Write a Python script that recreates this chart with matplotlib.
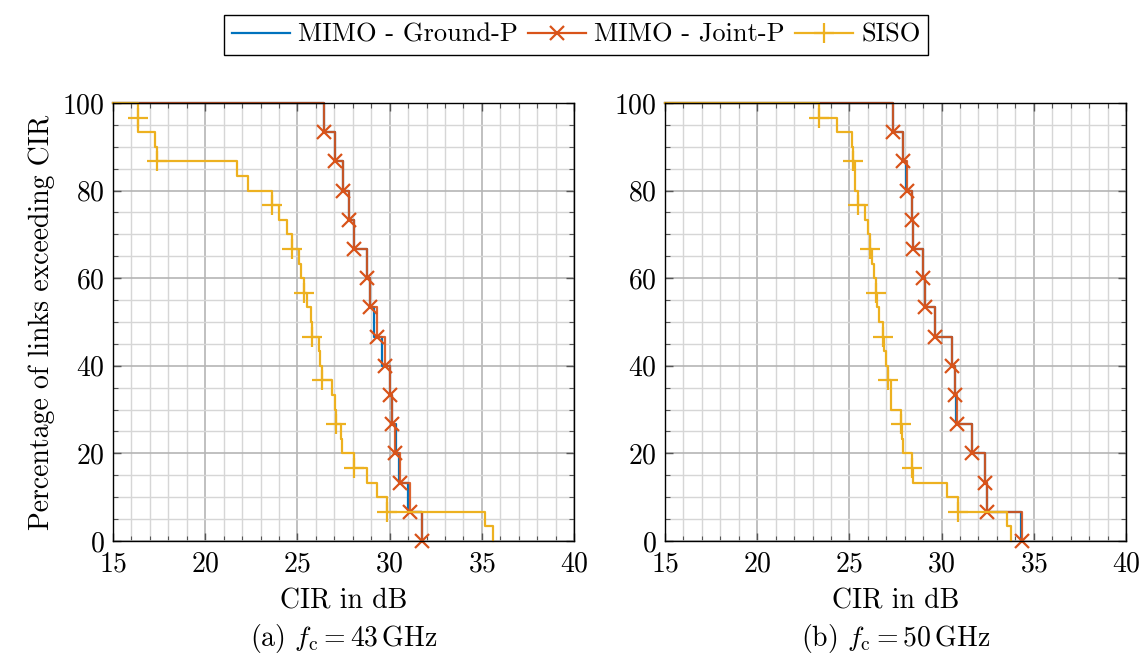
import numpy as np
import matplotlib.pyplot as plt
from matplotlib.ticker import MultipleLocator

plt.rcParams['font.family'] = 'cmr10'
plt.rcParams['mathtext.fontset'] = 'cm'
plt.rcParams['axes.formatter.use_mathtext'] = True
plt.rcParams['font.size'] = 20

# sorted CIR samples in dB
siso_43 = [16.34, 16.36, 17.28, 17.37, 21.71, 22.30, 23.64, 24.02, 24.42, 24.69,
           25.10, 25.20, 25.36, 25.50, 25.75, 25.78, 26.17, 26.23, 26.32, 26.86,
           27.02, 27.07, 27.38, 27.42, 28.09, 28.76, 29.30, 29.84, 35.17, 35.59]
ground_43 = [26.44, 27.04, 27.49, 27.80, 28.09, 28.76, 28.96, 29.13, 29.57, 30.00,
             30.12, 30.36, 30.50, 31.00, 31.78]
joint_43 = [26.44, 27.04, 27.49, 27.80, 28.09, 28.76, 28.96, 29.30, 29.75, 30.04,
            30.13, 30.30, 30.55, 31.10, 31.75]

siso_50 = [23.37, 24.31, 25.12, 25.21, 25.28, 25.33, 25.45, 25.86, 26.00, 26.10,
           26.20, 26.34, 26.42, 26.52, 26.58, 26.80, 26.90, 26.98, 27.12, 27.24,
           27.27, 27.80, 27.86, 27.90, 28.41, 28.43, 30.31, 30.88, 33.53, 33.74]
ground_50 = [27.35, 27.92, 28.08, 28.38, 28.45, 29.01, 29.12, 29.64, 30.56, 30.73,
             30.80, 31.67, 32.33, 32.48, 34.30]
joint_50 = [27.35, 27.92, 28.10, 28.38, 28.43, 29.01, 29.12, 29.64, 30.58, 30.73,
            30.82, 31.67, 32.35, 32.48, 34.34]

captions = [r'(a) $f_\mathrm{c} = 43\,\mathrm{GHz}$', r'(b) $f_\mathrm{c} = 50\,\mathrm{GHz}$']

blue = '#0072BD'
red = '#D95319'
yellow = '#EDB120'
x_min, x_max = 15, 40


def ccdf(samples):
    # step curve: percentage of links exceeding each CIR value
    s = np.sort(np.asarray(samples))
    n = len(s)
    x = np.concatenate([[x_min], s])
    y = 100 * (1 - np.arange(n + 1) / n)
    return x, y


fig = plt.figure(figsize=(11.43, 6.58), dpi=100)
ax1 = fig.add_axes([0.0989, 0.1778, 0.4033, 0.6657])
ax2 = fig.add_axes([0.5818, 0.1778, 0.4033, 0.6657])

datasets = [(siso_43, ground_43, joint_43), (siso_50, ground_50, joint_50)]

for ax, (siso, ground, joint), cap in zip([ax1, ax2], datasets, captions):
    x, y = ccdf(ground)
    ax.step(x, y, where='post', color=blue, lw=1.6, clip_on=False)
    x, y = ccdf(joint)
    ax.step(x, y, where='post', color=red, lw=1.6, alpha=0.9, clip_on=False)
    ax.plot(x, y, ls='none', marker='x', markevery=(1, 1), ms=10, mew=1.6,
            color=red, clip_on=False)
    x, y = ccdf(siso)
    ax.step(x, y, where='post', color=yellow, lw=1.6, clip_on=False)
    ax.plot(x, y, ls='none', marker='+', markevery=(1, 3), ms=14, mew=1.6,
            color=yellow, clip_on=False)

    ax.set_xlim(x_min, x_max)
    ax.set_ylim(0, 100)
    ax.xaxis.set_major_locator(MultipleLocator(5))
    ax.xaxis.set_minor_locator(MultipleLocator(1))
    ax.yaxis.set_major_locator(MultipleLocator(20))
    ax.yaxis.set_minor_locator(MultipleLocator(5))
    ax.grid(which='major', color='#b5b5b5', lw=1.2)
    ax.grid(which='minor', color='#d6d6d6', lw=1.0)
    ax.set_axisbelow(True)
    ax.tick_params(which='both', direction='in', top=True, right=True,
                   color='#555555')
    ax.tick_params(which='major', length=6, width=1)
    ax.tick_params(axis='x', which='major', pad=7)
    ax.tick_params(axis='y', which='major', pad=6)
    ax.tick_params(which='minor', length=3.5, width=0.8)
    for sp in ax.spines.values():
        sp.set_linewidth(1.0)
    ax.set_xlabel('CIR in dB', labelpad=8)
    pos = ax.get_position()
    fig.text(pos.x0 + pos.width / 2, 0.004, cap, ha='center', va='bottom')

ax1.set_ylabel('Percentage of links exceeding CIR', labelpad=5)

handles = [
    plt.Line2D([], [], color=blue, lw=1.6),
    plt.Line2D([], [], color=red, lw=1.6, marker='x', ms=10, mew=1.6),
    plt.Line2D([], [], color=yellow, lw=1.6, marker='+', ms=14, mew=1.6),
]
labels = ['MIMO - Ground-P', 'MIMO - Joint-P', 'SISO']
leg = fig.legend(handles, labels, loc='upper center', bbox_to_anchor=(0.504, 0.997),
                 ncol=3, fancybox=False, edgecolor='black', framealpha=1,
                 fontsize=19, handlelength=2.2, handletextpad=0.3,
                 columnspacing=0.4, borderpad=0.3)
leg.get_frame().set_linewidth(1.0)

fig.savefig('out.png', dpi=100)
